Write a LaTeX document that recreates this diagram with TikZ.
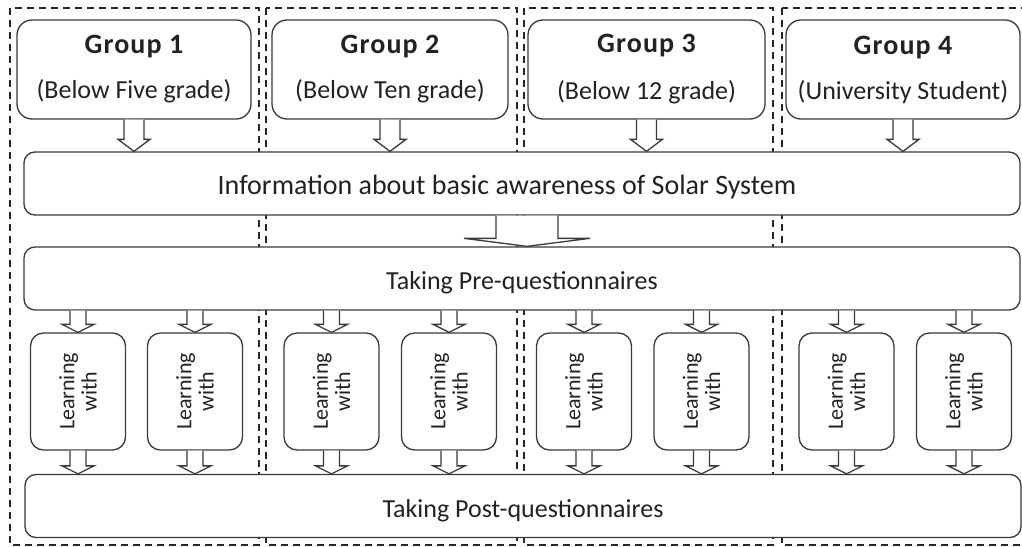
\documentclass[tikz,border=0pt]{standalone}
\usepackage{fontspec}
\setmainfont{Carlito}
\usetikzlibrary{calc}

\definecolor{edgegray}{HTML}{3A3A3A}
\definecolor{inkgray}{HTML}{222222}

\newcommand{\grptitle}[1]{{\fontsize{28}{32}\selectfont\bfseries\addfontfeature{LetterSpace=4}#1}}
\newcommand{\blockarrow}[5]{%
\draw[hollow] let \p1=(#1), \p2=(#2) in
  (\x1-#3pt,\y1) -- (\x1-#3pt,\y2+#5pt) -- (\x1-#4pt,\y2+#5pt) -- (\x1,\y2)
  -- (\x1+#4pt,\y2+#5pt) -- (\x1+#3pt,\y2+#5pt) -- (\x1+#3pt,\y1);}

\begin{document}
\begin{tikzpicture}[x=1pt, y=-1pt,
  colframe/.style={draw=black!85, line width=2.2pt, dash pattern=on 7pt off 5pt},
  grpbox/.style={draw=edgegray, fill=white, line width=1.3pt, rounded corners=15pt,
    minimum height=99pt, inner sep=0pt, align=center, text=inkgray,
    font=\fontsize{26}{32}\selectfont},
  mainbox/.style={draw=edgegray, fill=white, line width=1.3pt, rounded corners=11pt,
    minimum width=996pt, minimum height=63pt, inner sep=0pt, text=inkgray,
    text height=24pt, text depth=2pt, font=\fontsize{26}{32}\selectfont},
  learnbox/.style={draw=edgegray, fill=white, line width=1.3pt, rounded corners=13pt,
    minimum width=95pt, minimum height=117pt, inner sep=0pt, text=inkgray,
    font=\fontsize{22}{27}\selectfont},
  hollow/.style={draw=edgegray, line width=1.3pt, fill=white, line join=miter}]
\useasboundingbox (0,0) rectangle (1022,546);
\fill[white] (0,0) rectangle (1022,546);
\draw[colframe] (10,8) rectangle (259,545);
\draw[colframe] (266,8) rectangle (517,545);
\draw[colframe] (524,8) rectangle (773,545);
\draw[colframe] (782,8) rectangle (1034,545);
\node[grpbox, minimum width=234pt] (g1) at (134,69.5) {\grptitle{Group 1}\\[13pt](Below Five grade)};
\node[grpbox, minimum width=236pt] (g2) at (390,69.5) {\grptitle{Group 2}\\[13pt](Below Ten grade)};
\node[grpbox, minimum width=237pt] (g3) at (646.5,69.5) {\rule{0pt}{8pt}\grptitle{Group 3}\\[15pt](Below 12 grade)};
\node[grpbox, minimum width=234pt] (g4) at (903,69.5) {\grptitle{Group 4}\\[13pt](University Student)};
\node[mainbox, font=\fontsize{28}{32}\selectfont] (info) at (522,183.5) {Information about basic awareness of Solar System\hspace*{30pt}};
\node[mainbox] (pre) at (522,278.5) {Taking Pre-questionnaires};
\node[mainbox] (post) at (523,506) {Taking Post-questionnaires};
\node[learnbox] (l11) at (78,391.5) {\rotatebox{90}{\shortstack{Learning\\with}}};
\node[learnbox] (l12) at (195,391.5) {\rotatebox{90}{\shortstack{Learning\\with}}};
\node[learnbox] (l21) at (331.5,391.5) {\rotatebox{90}{\shortstack{Learning\\with}}};
\node[learnbox] (l22) at (449,391.5) {\rotatebox{90}{\shortstack{Learning\\with}}};
\node[learnbox] (l31) at (584,391.5) {\rotatebox{90}{\shortstack{Learning\\with}}};
\node[learnbox] (l32) at (701.5,391.5) {\rotatebox{90}{\shortstack{Learning\\with}}};
\node[learnbox] (l41) at (846.5,391.5) {\rotatebox{90}{\shortstack{Learning\\with}}};
\node[learnbox] (l42) at (964,391.5) {\rotatebox{90}{\shortstack{Learning\\with}}};
\blockarrow{g1.south}{info.north}{10}{16}{12}
\blockarrow{g2.south}{info.north}{10}{16}{12}
\blockarrow{g3.south}{info.north}{10}{16}{12}
\blockarrow{g4.south}{info.north}{10}{16}{12}
\blockarrow{$(info.south)+(5,0)$}{pre.north}{31}{63}{8}
\blockarrow{l11.north |- pre.south}{l11.north}{8}{16}{8}
\blockarrow{l12.north |- pre.south}{l12.north}{8}{16}{8}
\blockarrow{l21.north |- pre.south}{l21.north}{8}{16}{8}
\blockarrow{l22.north |- pre.south}{l22.north}{8}{16}{8}
\blockarrow{l31.north |- pre.south}{l31.north}{8}{16}{8}
\blockarrow{l32.north |- pre.south}{l32.north}{8}{16}{8}
\blockarrow{l41.north |- pre.south}{l41.north}{8}{16}{8}
\blockarrow{l42.north |- pre.south}{l42.north}{8}{16}{8}
\blockarrow{l11.south}{post.north}{8}{16}{8}
\blockarrow{l12.south}{post.north}{8}{16}{8}
\blockarrow{l21.south}{post.north}{8}{16}{8}
\blockarrow{l22.south}{post.north}{8}{16}{8}
\blockarrow{l31.south}{post.north}{8}{16}{8}
\blockarrow{l32.south}{post.north}{8}{16}{8}
\blockarrow{l41.south}{post.north}{8}{16}{8}
\blockarrow{l42.south}{post.north}{8}{16}{8}
\end{tikzpicture}
\end{document}
